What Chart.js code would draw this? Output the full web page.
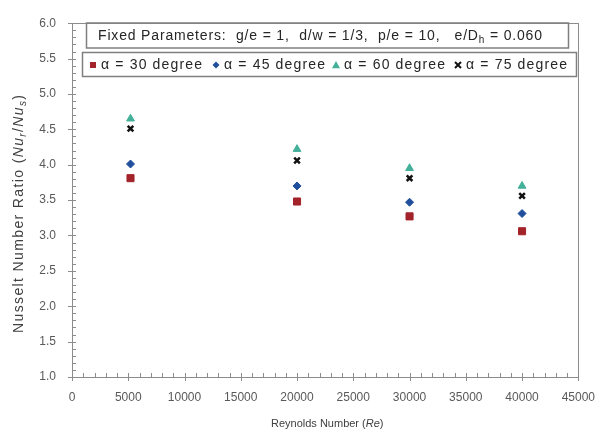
<!DOCTYPE html>
<html lang="en">
<head>
    <meta charset="UTF-8">
    <title>Nusselt Number Ratio vs Reynolds Number</title>
    <script src="https://cdn.jsdelivr.net/npm/chart.js"></script>
    <style>
        body {
            margin: 0;
            background-color: #ffffff;
        }
        #wrap {
            width: 608px;
            height: 439px;
        }
    </style>
</head>
<body>
    <div id="wrap"><canvas id="chart"></canvas></div>
    <script>
        // Data
        const reynolds = [5200, 20000, 30000, 40000];
        const ratio30 = [3.81, 3.48, 3.27, 3.06];
        const ratio45 = [4.01, 3.70, 3.47, 3.31];
        const ratio60 = [4.65, 4.22, 3.95, 3.70];
        const ratio75 = [4.51, 4.06, 3.81, 3.56];
        const seriesLabels = ['\u03b1 = 30 degree', '\u03b1 = 45 degree', '\u03b1 = 60 degree', '\u03b1 = 75 degree'];
        const xTicks = [0, 5000, 10000, 15000, 20000, 25000, 30000, 35000, 40000, 45000];
        const yTicks = [1.0, 1.5, 2.0, 2.5, 3.0, 3.5, 4.0, 4.5, 5.0, 5.5, 6.0];

        const FONT = '"Liberation Sans", Arial, sans-serif';
        const AXIS_GREY = '#8c8c8c';
        const TEXT_GREY = '#595959';

        function points(ys) {
            return reynolds.map((x, i) => ({ x: x, y: ys[i] }));
        }

        const datasets = [
            { label: seriesLabels[0], data: points(ratio30), pointStyle: 'rect', pointRadius: 5,
              backgroundColor: '#a3232a', borderColor: '#a3232a', borderWidth: 1 },
            { label: seriesLabels[1], data: points(ratio45), pointStyle: 'rectRot', pointRadius: 4,
              backgroundColor: '#1f4f9c', borderColor: '#1f4f9c', borderWidth: 1 },
            { label: seriesLabels[2], data: points(ratio60), pointStyle: 'triangle', pointRadius: 4.5,
              backgroundColor: '#43b09a', borderColor: '#43b09a', borderWidth: 1 },
            { label: seriesLabels[3], data: points(ratio75), pointStyle: 'crossRot', pointRadius: 4,
              backgroundColor: '#111111', borderColor: '#111111', borderWidth: 2.5 }
        ];

        // small legend marker, same shapes as the chart points
        function legendMarker(ctx, style, x, y, r) {
            ctx.beginPath();
            if (style === 'rect') {
                ctx.rect(x - r, y - r, 2 * r, 2 * r);
                ctx.fill();
            } else if (style === 'rectRot') {
                ctx.moveTo(x, y - r); ctx.lineTo(x + r, y); ctx.lineTo(x, y + r); ctx.lineTo(x - r, y);
                ctx.closePath();
                ctx.fill();
            } else if (style === 'triangle') {
                ctx.moveTo(x, y - r); ctx.lineTo(x + r, y + r * 0.8); ctx.lineTo(x - r, y + r * 0.8);
                ctx.closePath();
                ctx.fill();
            } else {
                ctx.moveTo(x - r, y - r); ctx.lineTo(x + r, y + r);
                ctx.moveTo(x + r, y - r); ctx.lineTo(x - r, y + r);
                ctx.stroke();
            }
        }

        // draw a row of text pieces starting at (x0, cy), stretched to 'width' px;
        // 'sub' pieces are smaller and lowered, 'italic' pieces slanted
        function drawRich(ctx, parts, x0, cy, size, width) {
            const chars = [];
            parts.forEach(p => {
                const sub = p[1].indexOf('sub') >= 0;
                const style = p[1].indexOf('italic') >= 0 ? 'italic ' : '';
                const font = style + (sub ? Math.round(size * 0.7) : size) + 'px ' + FONT;
                ctx.font = font;
                for (const ch of p[0]) {
                    chars.push({ ch: ch, font: font, dy: sub ? size * 0.3 : 0, w: ctx.measureText(ch).width });
                }
            });
            const natural = chars.reduce((s, c) => s + c.w, 0);
            const extra = width ? Math.max(0, (width - natural) / Math.max(1, chars.length - 1)) : 0;
            let x = x0;
            ctx.textAlign = 'left';
            ctx.textBaseline = 'middle';
            chars.forEach(c => {
                ctx.font = c.font;
                ctx.fillText(c.ch, x, cy + c.dy);
                x += c.w + extra;
            });
        }

        // Frame, major/minor tick marks, axis titles and the two boxes inside the plot
        const decorations = {
            id: 'decorations',
            afterDraw(chart) {
                const ctx = chart.ctx;
                const area = chart.chartArea;
                const xs = chart.scales.x;
                const ys = chart.scales.y;
                ctx.save();

                // plot frame
                ctx.strokeStyle = AXIS_GREY;
                ctx.lineWidth = 1;
                ctx.strokeRect(Math.round(area.left) + 0.5, Math.round(area.top) + 0.5,
                    Math.round(area.right - area.left), Math.round(area.bottom - area.top));

                // y ticks
                ctx.beginPath();
                for (let v = 10; v <= 60; v++) {
                    const py = Math.round(ys.getPixelForValue(v / 10)) + 0.5;
                    const major = v % 5 === 0;
                    ctx.moveTo(area.left - (major ? 4 : 0), py);
                    ctx.lineTo(area.left + 4, py);
                }
                // x ticks
                for (let v = 0; v <= 45000; v += 1000) {
                    const px = Math.round(xs.getPixelForValue(v)) + 0.5;
                    const major = v % 5000 === 0;
                    ctx.moveTo(px, area.bottom - 4);
                    ctx.lineTo(px, area.bottom + (major ? 4 : 0));
                }
                ctx.stroke();

                // x axis title
                ctx.fillStyle = '#404040';
                const xt = [['Reynolds Number (', ''], ['Re', 'italic '], [')', '']];
                drawRich(ctx, xt, 271, 424, 11, 112);

                // y axis title (rotated)
                ctx.save();
                ctx.translate(19, 333);
                ctx.rotate(-Math.PI / 2);
                const yt = [['Nusselt Number Ratio (', ''], ['Nu', 'italic '], ['r', 'italic sub'],
                            ['/', ''], ['Nu', 'italic '], ['s', 'italic sub'], [')', '']];
                drawRich(ctx, yt, 0, 0, 14, 238);
                ctx.restore();

                // Fixed parameter box
                ctx.strokeStyle = '#7f7f7f';
                ctx.lineWidth = 1.5;
                ctx.strokeRect(86.5, 23, 482, 25);
                ctx.fillStyle = '#262626';
                const fp = [['Fixed Parameters:  g/e = 1,  d/w = 1/3,  p/e = 10,   e/D', ''], ['h', 'sub'], [' = 0.060', '']];
                drawRich(ctx, fp, 98, 36, 14, 444);

                // legend box
                ctx.strokeRect(82.5, 52.5, 494, 24);
                const markerX = [93, 216, 336, 458];
                const radii = [3, 3.5, 4, 3];
                datasets.forEach((ds, i) => {
                    const mx = markerX[i];
                    const my = 65;
                    ctx.fillStyle = ds.backgroundColor;
                    ctx.strokeStyle = ds.borderColor;
                    ctx.lineWidth = i === 3 ? 2 : 1;
                    legendMarker(ctx, ds.pointStyle, mx, my, radii[i]);
                    ctx.fillStyle = '#262626';
                    drawRich(ctx, [[ds.label, '']], mx + 8, my, 14, 101);
                });

                ctx.restore();
            }
        };

        new Chart(document.getElementById('chart'), {
            type: 'scatter',
            data: { datasets: datasets },
            plugins: [decorations],
            options: {
                responsive: true,
                maintainAspectRatio: false,
                animation: false,
                layout: { padding: { top: 15, right: 25, left: 0, bottom: 0 } },
                plugins: {
                    legend: { display: false },
                    tooltip: { enabled: false }
                },
                scales: {
                    x: {
                        type: 'linear',
                        min: 0,
                        max: 45000,
                        afterFit(scale) { scale.height = 62; },
                        afterBuildTicks(scale) { scale.ticks = xTicks.map(v => ({ value: v })); },
                        grid: { display: false, drawTicks: false },
                        border: { display: false },
                        ticks: {
                            padding: 13,
                            color: TEXT_GREY,
                            font: { family: FONT, size: 12 },
                            maxRotation: 0,
                            callback: v => String(v)
                        }
                    },
                    y: {
                        min: 1,
                        max: 6,
                        afterFit(scale) { scale.width = 72; },
                        afterBuildTicks(scale) { scale.ticks = yTicks.map(v => ({ value: v })); },
                        grid: { display: false, drawTicks: false },
                        border: { display: false },
                        ticks: {
                            padding: 16,
                            color: TEXT_GREY,
                            font: { family: FONT, size: 12 },
                            callback: v => v.toFixed(1)
                        }
                    }
                }
            }
        });
    </script>
</body>
</html>
